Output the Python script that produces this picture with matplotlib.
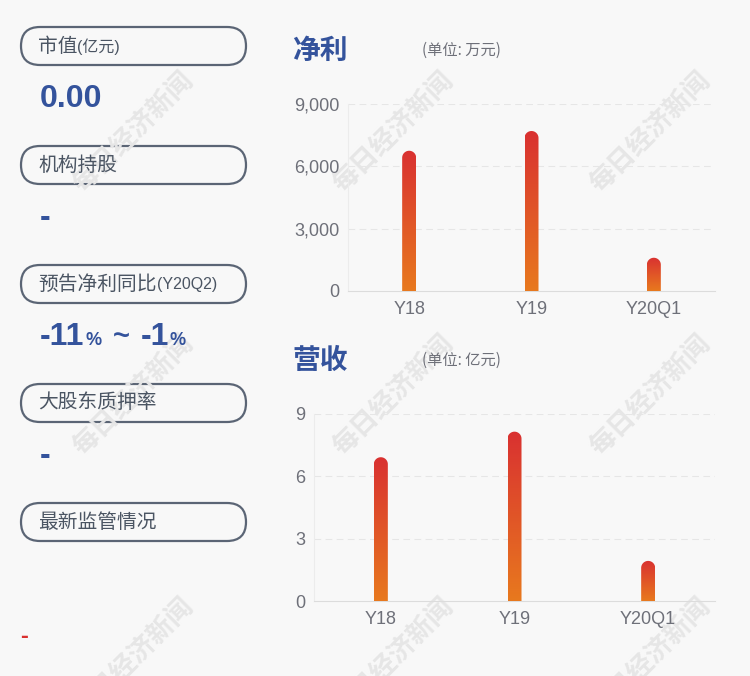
import numpy as np
import matplotlib
matplotlib.use('Agg')
import matplotlib.pyplot as plt
from matplotlib.patches import FancyBboxPatch, Polygon
from matplotlib.colors import LinearSegmentedColormap

plt.rcParams['font.family'] = ['Liberation Sans', 'Noto Sans CJK SC', 'DejaVu Sans']

# 数据
years = ['Y18', 'Y19', 'Y20Q1']
net_profit = [6750, 7700, 1600]      # 万元
revenue = [6.92, 8.15, 1.93]         # 亿元
np_ticks = [0, 3000, 6000, 9000]
rev_ticks = [0, 3, 6, 9]

labels = ['市值', '机构持股', '预告净利同比', '大股东质押率', '最新监管情况']
label_suffix = ['(亿元)', '', '(Y20Q2)', '', '']
values = ['0.00', '-', None, '-', None]
forecast = ['-11', '-1']

BG = '#f8f8f8'
BLUE = '#34539c'
GRAY = '#6e7079'
CJK = ['Noto Sans CJK SC', 'DejaVu Sans']

W, H = 750, 676
fig = plt.figure(figsize=(W / 100, H / 100), dpi=100, facecolor=BG)

# 背景层: 左侧信息 + 水印
bg = fig.add_axes([0, 0, 1, 1], zorder=0)
bg.set_xlim(0, W)
bg.set_ylim(H, 0)
bg.axis('off')

for cx in [133, 393, 650]:
    for cy in [132, 395, 658]:
        bg.text(cx, cy, '每日经济新闻', rotation=45, fontsize=19, fontweight='bold',
                color='#e6e6e6', ha='center', va='center', family=CJK,
                rotation_mode='anchor')

pill_top = [27, 146, 265, 384, 503]
for i, lab in enumerate(labels):
    y0 = pill_top[i]
    box = FancyBboxPatch((21, y0), 225, 38, boxstyle='round,pad=0,rounding_size=19',
                         facecolor='none', edgecolor='#5b6575', linewidth=1.6)
    bg.add_patch(box)
    t = bg.text(38, y0 + 19, lab, fontsize=14.2, color='#4b5563', va='center',
                ha='left', family=CJK)
    if label_suffix[i]:
        fig.canvas.draw()
        xe = t.get_window_extent().x1
        bg.text(xe, y0 + 20, label_suffix[i], fontsize=11.5, color='#4b5563',
                va='center', ha='left')
    v = values[i]
    if v is not None:
        bg.text(40, y0 + 80, v, fontsize=23, fontweight='bold', color=BLUE,
                va='baseline', ha='left')

# 预告净利同比 数值: -11% ~ -1%
yb = 345
pieces = [(forecast[0], 23, 40), ('%', 13, 86), ('~', 21, 113),
          (forecast[1], 23, 141), ('%', 13, 169)]
for s, fs, xp in pieces:
    bg.text(xp, yb - (1 if s == '~' else 0), s, fontsize=fs, fontweight='bold',
            color=BLUE, va='baseline', ha='left')
bg.text(20, 643, '-', fontsize=17, fontweight='bold', color='#d9302f', va='baseline')

cmap = LinearSegmentedColormap.from_list('bar', ['#e8791e', '#d93131'])
grad = np.linspace(0, 1, 256).reshape(-1, 1)


def draw_panel(rect_px, vals, ticks, fmt, title, unit):
    l, t, r, b = rect_px
    ax = fig.add_axes([l / W, 1 - b / H, (r - l) / W, (b - t) / H], zorder=2)
    ax.set_facecolor('none')
    x = np.arange(len(years))
    ymax = ticks[-1]
    ppx = (r - l) / 3
    ppy = (b - t) / ymax
    bars = ax.bar(x, vals, width=14 / ppx, color='none', edgecolor='none')
    for rc in bars:
        x0, w, h = rc.get_x(), rc.get_width(), rc.get_height()
        rad = w / 2
        ry = rad * ppx / ppy
        top = h - ry
        a = np.linspace(0, np.pi, 40)
        verts = [(x0, 0), (x0 + w, 0)] + \
            [(x0 + rad + rad * np.cos(k), top + ry * np.sin(k)) for k in a]
        poly = Polygon(verts, closed=True, transform=ax.transData,
                       facecolor='none', edgecolor='none')
        ax.add_patch(poly)
        im = ax.imshow(grad, cmap=cmap, aspect='auto', origin='lower',
                       extent=[x0, x0 + w, 0, h], zorder=3)
        im.set_clip_path(poly)
    ax.set_xlim(-0.5, 2.5)
    ax.set_ylim(0, ymax)
    ax.set_yticks(ticks)
    ax.set_yticklabels([fmt(v) for v in ticks])
    ax.set_xticks(x)
    ax.set_xticklabels(years)
    ax.tick_params(length=0, labelsize=13, labelcolor=GRAY)
    ax.tick_params(axis='y', pad=6)
    ax.tick_params(axis='x', pad=7)
    for g in ticks[1:]:
        ax.axhline(g, color='#e6e6e6', linewidth=0.8, linestyle=(0, (6, 4)), zorder=1)
    for s in ['top', 'right']:
        ax.spines[s].set_visible(False)
    ax.spines['left'].set_color('#ececec')
    ax.spines['bottom'].set_color('#dcdcdc')
    ax.spines['left'].set_linewidth(0.8)
    ax.spines['bottom'].set_linewidth(0.8)
    bg.text(292, t - 53, title, fontsize=20, fontweight='bold', color=BLUE,
            va='center', ha='left', family=CJK)
    bg.text(422, t - 54, unit, fontsize=11, color=GRAY, va='center', ha='left',
            family=CJK)
    return ax


draw_panel((348, 104, 715, 291), net_profit, np_ticks, lambda v: f'{v:,}', '净利', '(单位: 万元)')
draw_panel((314, 414, 715, 601), revenue, rev_ticks, lambda v: f'{v}', '营收', '(单位: 亿元)')

fig.savefig('out.png', dpi=100, facecolor=BG)
